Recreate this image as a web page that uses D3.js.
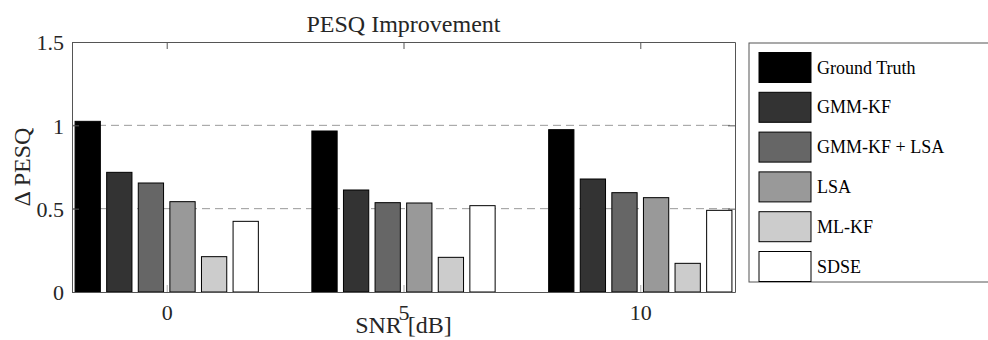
<!DOCTYPE html>
<html>
<head>
<meta charset="utf-8">
<script src="https://cdn.jsdelivr.net/npm/d3@7"></script>
<style>
  body { margin: 0; background: #fff; }
</style>
</head>
<body>
<svg id="chart" width="988" height="340"></svg>
<script>
// data
const snrLevels = [0, 5, 10];
const methods = ['Ground Truth', 'GMM-KF', 'GMM-KF + LSA', 'LSA', 'ML-KF', 'SDSE'];
const fills = ['#000000', '#333333', '#666666', '#999999', '#cccccc', '#ffffff'];
const groundTruth = [1.024, 0.966, 0.974];
const gmmKf = [0.718, 0.612, 0.678];
const gmmKfLsa = [0.654, 0.536, 0.596];
const lsa = [0.542, 0.534, 0.566];
const mlKf = [0.212, 0.208, 0.172];
const sdse = [0.424, 0.518, 0.490];
const yTicks = [0, 0.5, 1, 1.5];
const yTickLabels = ['0', '0.5', '1', '1.5'];

const seriesValues = [groundTruth, gmmKf, gmmKfLsa, lsa, mlKf, sdse];
const FONT = 'Liberation Serif';

const margin = {top: 42, left: 72, right: 253, bottom: 48};
const svg = d3.select('#chart');
const width = +svg.attr('width') - margin.left - margin.right;
const height = +svg.attr('height') - margin.top - margin.bottom;

const g = svg.append('g')
  .attr('transform', 'translate(' + margin.left + ',' + margin.top + ')');

// numeric x like matlab's bar(): xlim [-2, 12], each group ~3.87 units wide
const x = d3.scaleLinear().domain([-2, 12]).range([0, width]);
const half = x(1.935) - x(0);
const x1 = d3.scaleBand().domain(methods)
  .range([-half, half]).paddingInner(0.2).paddingOuter(0);
const y = d3.scaleLinear().domain([0, 1.5]).range([height, 0]);

// dashed grid
g.append('g')
  .selectAll('line')
  .data(yTicks.filter(d => d > 0 && d < 1.5))
  .enter().append('line')
  .attr('x1', 0).attr('x2', width)
  .attr('y1', d => y(d)).attr('y2', d => y(d))
  .attr('stroke', '#9a9a9a')
  .attr('stroke-width', 1)
  .attr('stroke-dasharray', '8,5');

// bars
const groups = g.selectAll('.grp')
  .data(snrLevels)
  .enter().append('g')
  .attr('class', 'grp')
  .attr('transform', d => 'translate(' + x(d) + ',0)');

groups.selectAll('rect')
  .data((d, i) => methods.map((m, j) => ({m: m, v: seriesValues[j][i], c: fills[j]})))
  .enter().append('rect')
  .attr('x', d => x1(d.m))
  .attr('y', d => y(d.v))
  .attr('width', x1.bandwidth())
  .attr('height', d => y(0) - y(d.v))
  .attr('fill', d => d.c)
  .attr('stroke', '#000')
  .attr('stroke-width', 1);

// axes box
const axisColor = '#555';
const yAxis = g.append('g')
  .call(d3.axisLeft(y).tickValues(yTicks).tickFormat((d, i) => yTickLabels[i]).tickSizeInner(-7).tickSizeOuter(0).tickPadding(8));
const yAxisR = g.append('g')
  .attr('transform', 'translate(' + width + ',0)')
  .call(d3.axisRight(y).tickValues(yTicks).tickFormat('').tickSizeInner(-7).tickSizeOuter(0));
const xAxis = g.append('g')
  .attr('transform', 'translate(0,' + height + ')')
  .call(d3.axisBottom(x).tickValues(snrLevels).tickFormat(d3.format('d')).tickSizeInner(-7).tickSizeOuter(0).tickPadding(12.5));
const xAxisT = g.append('g')
  .call(d3.axisTop(x).tickValues(snrLevels).tickFormat('').tickSizeInner(-7).tickSizeOuter(0));

[yAxis, yAxisR, xAxis, xAxisT].forEach(a => {
  a.attr('font-family', FONT).attr('font-size', 22);
  a.selectAll('path').attr('stroke', axisColor);
  a.selectAll('line').attr('stroke', axisColor);
  a.selectAll('text').attr('fill', '#262626');
});
yAxis.selectAll('text').attr('dy', '0.35em');
xAxis.selectAll('.tick line').attr('stroke', '#aaa');

// title and axis labels
svg.append('text')
  .attr('x', margin.left + width / 2)
  .attr('y', 32)
  .attr('text-anchor', 'middle')
  .attr('fill', '#262626')
  .attr('font-family', FONT)
  .attr('font-size', 24)
  .text('PESQ Improvement');

svg.append('text')
  .attr('x', margin.left + width / 2)
  .attr('y', 333)
  .attr('text-anchor', 'middle')
  .attr('fill', '#262626')
  .attr('font-family', FONT)
  .attr('font-size', 24)
  .text('SNR [dB]');

svg.append('text')
  .attr('transform', 'translate(30,' + (margin.top + height / 2) + ') rotate(-90)')
  .attr('text-anchor', 'middle')
  .attr('fill', '#262626')
  .attr('font-family', FONT)
  .attr('font-size', 24)
  .text('\u0394 PESQ');

// legend
const legend = svg.append('g').attr('transform', 'translate(749,43)');
legend.append('rect')
  .attr('x', 0).attr('y', 0)
  .attr('width', 250).attr('height', 239)
  .attr('fill', '#fff')
  .attr('stroke', '#555')
  .attr('stroke-width', 1);

const items = legend.selectAll('.item')
  .data(methods)
  .enter().append('g')
  .attr('class', 'item')
  .attr('transform', (d, i) => 'translate(10,' + (9.5 + i * 39.8) + ')');

items.append('rect')
  .attr('width', 52).attr('height', 30)
  .attr('fill', (d, i) => fills[i])
  .attr('stroke', '#000')
  .attr('stroke-width', 1);

items.append('text')
  .attr('x', 58)
  .attr('y', 21)
  .attr('fill', '#000')
  .attr('font-family', FONT)
  .attr('font-size', 18)
  .text(d => d);
</script>
</body>
</html>
